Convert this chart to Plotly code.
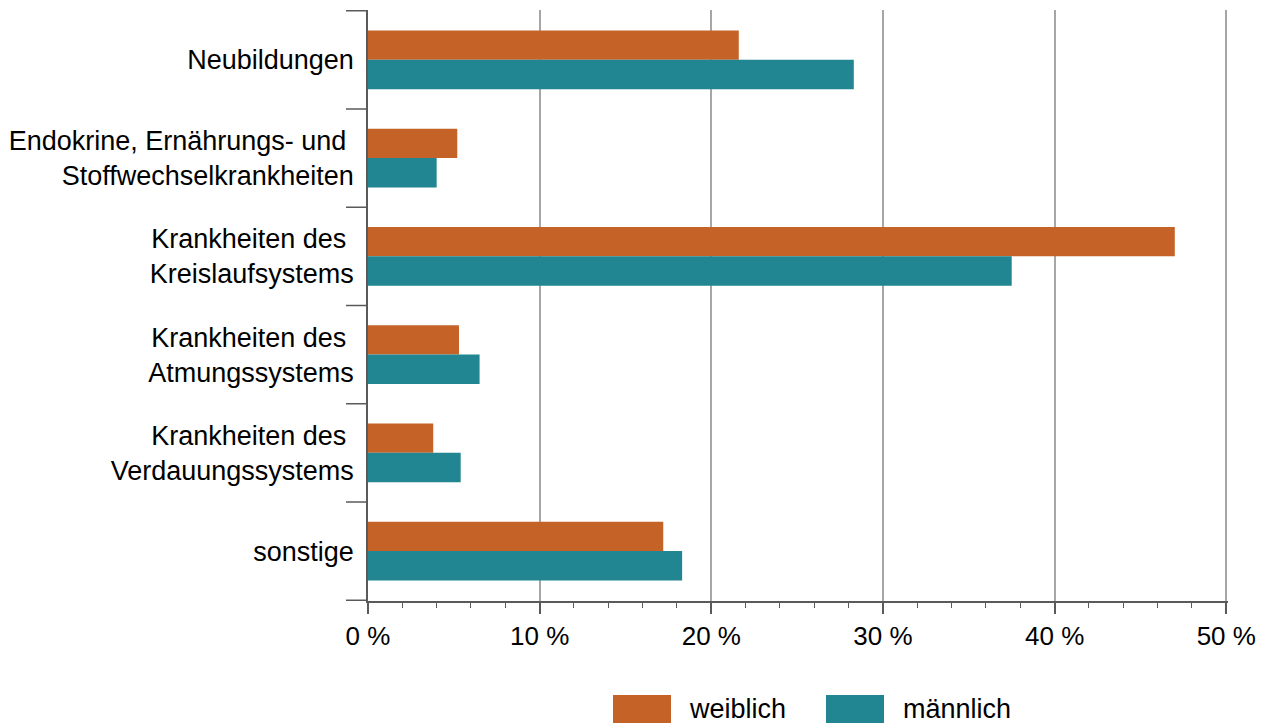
import plotly.graph_objects as go

categories = [
    "Neubildungen",
    "Endokrine, Ernährungs- und\u00a0<br>Stoffwechselkrankheiten",
    "Krankheiten des\u00a0<br>Kreislaufsystems",
    "Krankheiten des\u00a0<br>Atmungssystems",
    "Krankheiten des\u00a0<br>Verdauungssystems",
    "sonstige",
]
weiblich = [21.6, 5.2, 47.0, 5.3, 3.8, 17.2]
maennlich = [28.3, 4.0, 37.5, 6.5, 5.4, 18.3]
x_ticks = [0, 10, 20, 30, 40, 50]
x_tick_labels = ["0 %", "10 %", "20 %", "30 %", "40 %", "50 %"]
series_names = ["weiblich", "männlich"]
colors = ["#C56228", "#218691"]

FONT = "Liberation Sans, Arial, sans-serif"
AXIS = "#5a5a5a"
GRID = "#a6a6a6"

fig = go.Figure()
for name, vals, col in zip(series_names, [weiblich, maennlich], colors):
    fig.add_trace(go.Bar(
        y=categories, x=vals, name=name, orientation="h",
        marker=dict(color=col, line=dict(width=0)),
        showlegend=False,
    ))

PW = 860  # plot width in px
fig.update_layout(
    width=1272, height=727,
    margin=dict(l=368, r=1272 - 368 - PW, t=10, b=126),
    paper_bgcolor="white", plot_bgcolor="white",
    barmode="group", bargap=0.4, bargroupgap=0,
    font=dict(family=FONT, size=27, color="black"),
)
fig.update_xaxes(
    range=[0, 50.1], tickmode="array", tickvals=x_ticks, ticktext=x_tick_labels,
    showgrid=True, gridcolor=GRID, gridwidth=1.5,
    showline=True, linecolor=AXIS, linewidth=1.5,
    ticks="outside", ticklen=11, tickcolor=AXIS, tickwidth=1.5,
    minor=dict(dtick=2, ticks="outside", ticklen=5, tickcolor=AXIS, tickwidth=1, showgrid=False),
    tickfont=dict(size=26), zeroline=False,
)
fig.update_yaxes(
    autorange="reversed", showgrid=False,
    showline=True, linecolor=AXIS, linewidth=1.5,
    ticks="outside", ticklen=7, tickcolor="rgba(0,0,0,0)",
    tickfont=dict(size=27),
)

# category boundary ticks
n = len(categories)
for i in range(n + 1):
    fig.add_shape(type="line", xref="paper", yref="y",
                  x0=-22 / PW, x1=0, y0=i - 0.5, y1=i - 0.5,
                  line=dict(color=AXIS, width=1.5))

# custom legend (paper coords)
def px_x(p):
    return (p - 368) / PW

leg_y0, leg_y1 = -0.159, -0.2064
for (a, b, t), name, col in zip([(613, 671, 687), (826, 884, 901)], series_names, colors):
    fig.add_shape(type="rect", xref="paper", yref="paper",
                  x0=px_x(a), x1=px_x(b), y0=leg_y0, y1=leg_y1,
                  fillcolor=col, line=dict(width=0))
    fig.add_annotation(xref="paper", yref="paper", x=px_x(t), y=(leg_y0 + leg_y1) / 2,
                       text=name, showarrow=False, xanchor="left", yanchor="middle",
                       font=dict(size=27, color="black"))

fig.write_html("out.html", config={"displayModeBar": False},
               post_script="document.body.style.margin='0';document.body.style.overflow='hidden';")
